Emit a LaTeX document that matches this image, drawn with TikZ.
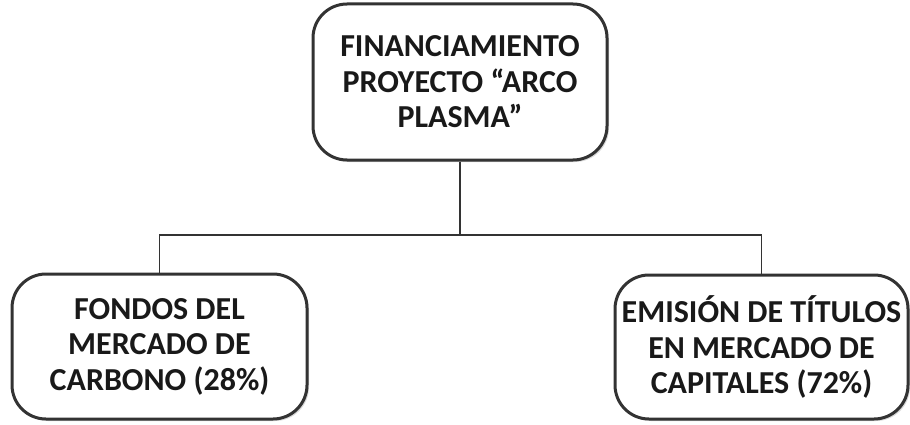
\documentclass[tikz,border=0pt]{standalone}
\usepackage{fontspec}
\setmainfont{Carlito}
\usetikzlibrary{shadows}
\definecolor{edge}{HTML}{333333}
\tikzset{
  box/.style={draw=edge, line width=3pt, rounded corners=34pt, fill=white,
    drop shadow={shadow xshift=2pt, shadow yshift=-2pt, fill=black!25, opacity=0.6},
    align=center, inner sep=0pt,
    font=\fontsize{32}{35.5}\selectfont\bfseries, text=black!90},
  link/.style={draw=edge, line width=1.4pt}
}
\begin{document}
\begin{tikzpicture}[x=1pt,y=1pt]
\useasboundingbox (0,0) rectangle (910,424);
\node[box, minimum width=294pt, minimum height=156pt] (top) at (460,342)
  {\raisebox{0pt}{FINANCIAMIENTO}\\PROYECTO “ARCO\\PLASMA”};
\node[box, minimum width=295pt, minimum height=145pt] (left) at (159.5,77.5)
  {FONDOS DEL\\MERCADO DE\\CARBONO (28\%)};
\node[box, minimum width=293pt, minimum height=144pt] (right) at (761.5,77)
  {EMISIÓN DE TÍTULOS\\EN MERCADO DE\\CAPITALES (72\%)};
\coordinate (mid) at (460,189);
\draw[link] (top.south) -- (mid);
\draw[link] (mid) -| (left.north);
\draw[link] (mid) -| (right.north);
\end{tikzpicture}
\end{document}
